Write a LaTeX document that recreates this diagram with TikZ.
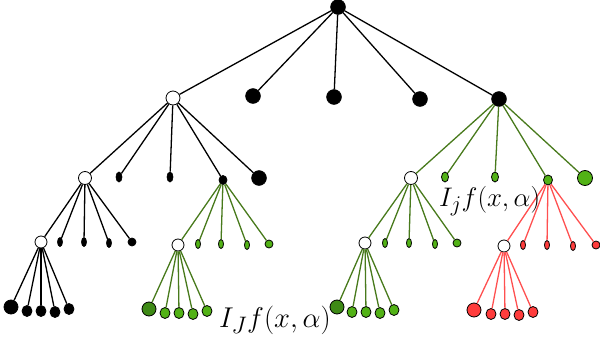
\documentclass[tikz,border=0pt]{standalone}
\usepackage{graphicx}
\usetikzlibrary{shapes.geometric}
\definecolor{gedge}{RGB}{72,122,28}
\definecolor{gfill}{RGB}{82,178,22}
\definecolor{gdark}{RGB}{62,138,22}
\definecolor{redge}{RGB}{255,80,80}
\definecolor{rfill}{RGB}{255,60,60}
\tikzset{
 blk/.style={circle, fill=black, draw=black, inner sep=0pt, minimum size=14pt},
 wht/.style={circle, fill=white, draw=black, line width=0.8pt, inner sep=0pt, minimum size=13pt},
 elb/.style={ellipse, fill=black, draw=black, line width=0.7pt, inner sep=0pt, minimum width=6pt, minimum height=10pt},
 elg/.style={ellipse, fill=gfill, draw=black, line width=0.8pt, inner sep=0pt, minimum width=7pt, minimum height=10pt},
 elr/.style={ellipse, fill=rfill, draw=black, line width=0.8pt, inner sep=0pt, minimum width=6pt, minimum height=9pt},
 lf/.style={ellipse, draw=black, line width=0.8pt, inner sep=0pt, minimum width=10pt, minimum height=11pt},
 big/.style={circle, draw=black, line width=0.8pt, inner sep=0pt, minimum size=14pt},
 bedge/.style={draw=black, line width=1.3pt},
 gedg/.style={draw=gedge, line width=1.3pt},
 redg/.style={draw=redge, line width=1.3pt},
 lab/.style={anchor=west, inner sep=0pt, font=\fontsize{24.88}{28}\selectfont}
}
\begin{document}
\begin{tikzpicture}[x=1pt,y=-1pt]
\useasboundingbox (0,0) rectangle (600,340);
% level 0 and 1
\node[blk, minimum size=15pt] (r) at (338,7) {};
\node[wht, minimum size=14pt] (a) at (173,98) {};
\node[blk, minimum size=15pt] (b) at (253,96) {};
\node[blk, minimum size=15pt] (c) at (334,97) {};
\node[blk, minimum size=15pt] (d) at (420,99) {};
\node[blk, minimum size=15pt] (e) at (499,99) {};
% level 2 under a
\node[wht] (a1) at (85,178) {};
\node[elb] (a2) at (119,177) {};
\node[elb] (a3) at (170,177) {};
\node[elb, minimum width=8pt, minimum height=9pt] (a4) at (223,180) {};
\node[blk, minimum size=15pt] (a5) at (259,178) {};
% level 2 under e
\node[wht] (e1) at (411,178) {};
\node[elg] (e2) at (445,177) {};
\node[elg] (e3) at (495,177) {};
\node[elg, minimum width=9pt, minimum height=10pt] (e4) at (548,180) {};
\node[big, fill=gfill, minimum size=15pt] (e5) at (585,178) {};
% level 3
\node[wht, minimum size=12pt] (a11) at (41,242) {};
\node[elb, minimum width=5pt, minimum height=9pt] (a12) at (60,242) {};
\node[elb, minimum width=5pt, minimum height=9pt] (a13) at (84,242) {};
\node[elb, minimum width=5pt, minimum height=9pt] (a14) at (109,243) {};
\node[elb, minimum width=8pt, minimum height=8pt] (a15) at (132,242) {};
\node[wht, minimum size=12pt] (a41) at (178,245) {};
\node[elg, minimum width=5pt, minimum height=9pt] (a42) at (198,244) {};
\node[elg, minimum width=5pt, minimum height=9pt] (a43) at (221,244) {};
\node[elg, minimum width=5pt, minimum height=9pt] (a44) at (247,245) {};
\node[elg, minimum width=8pt, minimum height=8pt] (a45) at (269,244) {};
\node[wht, minimum size=12pt] (e11) at (365,243) {};
\node[elg, minimum width=5pt, minimum height=9pt] (e12) at (385,243) {};
\node[elg, minimum width=5pt, minimum height=9pt] (e13) at (409,243) {};
\node[elg, minimum width=5pt, minimum height=9pt] (e14) at (435,244) {};
\node[elg, minimum width=8pt, minimum height=8pt] (e15) at (457,243) {};
\node[wht, minimum size=12pt] (e41) at (504,246) {};
\node[elr, minimum width=5pt, minimum height=9pt] (e42) at (523,245) {};
\node[elr, minimum width=5pt, minimum height=9pt] (e43) at (547,245) {};
\node[elr, minimum width=5pt, minimum height=9pt] (e44) at (573,246) {};
\node[elr, minimum width=8pt, minimum height=8pt] (e45) at (596,245) {};
% level 4
\node[big, fill=black, minimum size=14pt] (a111) at (11,307) {};
\node[lf, fill=black] (a112) at (27,311) {};
\node[lf, fill=black] (a113) at (41,311) {};
\node[lf, fill=black] (a114) at (55,312) {};
\node[lf, fill=black] (a115) at (69,309) {};
\node[big, fill=gdark, minimum size=14pt] (a411) at (149,309) {};
\node[lf, fill=gfill] (a412) at (165,313) {};
\node[lf, fill=gfill] (a413) at (179,313) {};
\node[lf, fill=gfill] (a414) at (193,314) {};
\node[lf, fill=gfill] (a415) at (207,311) {};
\node[big, fill=gdark, minimum size=14pt] (e111) at (337,307) {};
\node[lf, fill=gfill] (e112) at (352,312) {};
\node[lf, fill=gfill] (e113) at (366,312) {};
\node[lf, fill=gfill] (e114) at (380,313) {};
\node[lf, fill=gfill] (e115) at (394,310) {};
\node[big, fill=rfill, minimum size=14pt] (e411) at (474,310) {};
\node[lf, fill=rfill] (e412) at (491,314) {};
\node[lf, fill=rfill] (e413) at (505,314) {};
\node[lf, fill=rfill] (e414) at (519,315) {};
\node[lf, fill=rfill] (e415) at (533,312) {};
% edges
\foreach \c in {a,b,c,d,e} \draw[bedge] (r) -- (\c);
\foreach \i in {1,...,5} {
  \draw[bedge] (a) -- (a\i);
  \draw[gedg] (e) -- (e\i);
  \draw[bedge] (a1) -- (a1\i);
  \draw[gedg] (a4) -- (a4\i);
  \draw[gedg] (e1) -- (e1\i);
  \draw[redg] (e4) -- (e4\i);
  \draw[bedge] (a11) -- (a11\i);
  \draw[gedg] (a41) -- (a41\i);
  \draw[gedg] (e11) -- (e11\i);
  \draw[redg] (e41) -- (e41\i);
}
% labels
\node[lab] (l1) at (219,320) {\scalebox{1.15}{$I_J f(x,\alpha)$}};
\node[lab] (l2) at (439,201) {\scalebox{1.08}{$I_j f(x,\alpha)$}};
\end{tikzpicture}
\end{document}
